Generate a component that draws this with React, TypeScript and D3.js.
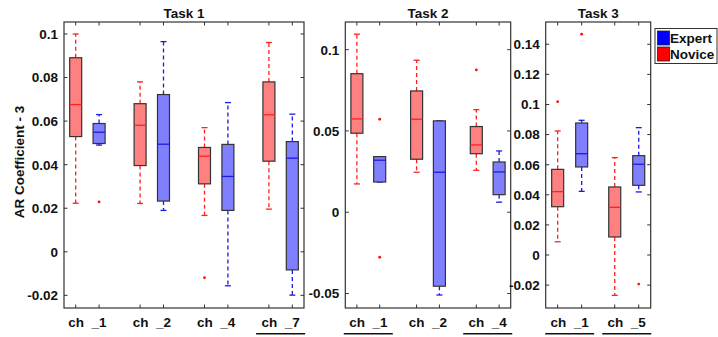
import React from "react";
import * as d3 from "d3";

// ---- Data: each box is [lowerWhisker, q1, median, q3, upperWhisker]
const task1Categories = ["ch _1", "ch _2", "ch _4", "ch _7"];
const task1Novice = [
  [0.0223, 0.0529, 0.0676, 0.0891, 0.1],
  [0.0222, 0.0396, 0.0581, 0.068, 0.078],
  [0.0167, 0.0312, 0.0439, 0.0479, 0.057],
  [0.0196, 0.0416, 0.0629, 0.078, 0.0961],
];
const task1Expert = [
  [0.049, 0.0497, 0.0549, 0.0589, 0.063],
  [0.019, 0.0233, 0.0494, 0.0722, 0.0965],
  [-0.0156, 0.019, 0.0346, 0.0493, 0.0685],
  [-0.0199, -0.0083, 0.043, 0.0506, 0.0632],
];
const task1NoviceOutliers = [[], [], [-0.0119], []];
const task1ExpertOutliers = [[0.0229], [], [], []];
const task1Underlined = [false, false, false, true];
const task1Ticks = [-0.02, 0, 0.02, 0.04, 0.06, 0.08, 0.1];
const task1Domain = [-0.0258, 0.1055];

const task2Categories = ["ch _1", "ch _2", "ch _4"];
const task2Novice = [
  [0.0174, 0.0486, 0.0574, 0.0852, 0.1095],
  [0.0246, 0.0326, 0.0572, 0.0746, 0.0935],
  [0.0258, 0.036, 0.0414, 0.0527, 0.0631],
];
const task2Expert = [
  [0.0186, 0.0186, 0.032, 0.0342, 0.0342],
  [-0.0509, -0.0455, 0.0246, 0.0562, 0.0562],
  [0.0062, 0.0108, 0.0248, 0.0309, 0.0377],
];
const task2NoviceOutliers = [[], [], [0.0875]];
const task2ExpertOutliers = [[0.0572, -0.0277], [], []];
const task2Underlined = [true, false, true];
const task2Ticks = [-0.05, 0, 0.05, 0.1];
const task2Domain = [-0.0589, 0.117];

const task3Categories = ["ch _1", "ch _5"];
const task3Novice = [
  [0.0088, 0.0321, 0.0421, 0.0569, 0.0824],
  [-0.0268, 0.012, 0.0317, 0.0452, 0.0647],
];
const task3Expert = [
  [0.0423, 0.0585, 0.0673, 0.0877, 0.0895],
  [0.0419, 0.0463, 0.0603, 0.066, 0.0846],
];
const task3NoviceOutliers = [[0.1019], []];
const task3ExpertOutliers = [[0.1467], [-0.0193]];
const task3Underlined = [true, true];
const task3Ticks = [-0.02, 0, 0.02, 0.04, 0.06, 0.08, 0.1, 0.12, 0.14];
const task3Domain = [-0.0352, 0.1548];

const titles = ["Task 1", "Task 2", "Task 3"];
const legendLabels = ["Expert", "Novice"];
const yLabel = "AR Coefficient - 3";

// ---- Layout / style
const W = 718;
const H = 337;
const TOP = 22;
const BOTTOM = 308;
const FONT = "'Liberation Sans', Arial, Helvetica, sans-serif";
const NOVICE_FILL = "#ff8080";
const EXPERT_FILL = "#8080ff";
const NOVICE_LINE = "#ff2020";
const EXPERT_LINE = "#1a1ae6";
const EDGE = "#333";

const panels = [
  { x0: 64, x1: 304, padding: 0.363, offset: 11.7, cats: task1Categories, novice: task1Novice, expert: task1Expert, nOut: task1NoviceOutliers, eOut: task1ExpertOutliers, under: task1Underlined, ticks: task1Ticks, domain: task1Domain, title: titles[0] },
  { x0: 345.3, x1: 510.7, padding: 0.385, offset: 11.4, cats: task2Categories, novice: task2Novice, expert: task2Expert, nOut: task2NoviceOutliers, eOut: task2ExpertOutliers, under: task2Underlined, ticks: task2Ticks, domain: task2Domain, title: titles[1] },
  { x0: 545.7, x1: 650.7, padding: 0.42, offset: 12, cats: task3Categories, novice: task3Novice, expert: task3Expert, nOut: task3NoviceOutliers, eOut: task3ExpertOutliers, under: task3Underlined, ticks: task3Ticks, domain: task3Domain, title: titles[2] },
];

const fmt = (v: number) => String(+v.toFixed(3));

function Box({ cx, stats, y, fill, line, outliers }: any) {
  const bw = 12;
  const cap = 6;
  const [lw, q1, med, q3, uw] = stats;
  return (
    <g>
      {uw > q3 && (
        <line x1={cx} x2={cx} y1={y(q3)} y2={y(uw)} stroke={line} strokeWidth={1.3} strokeDasharray="4,3" />
      )}
      {lw < q1 && (
        <line x1={cx} x2={cx} y1={y(q1)} y2={y(lw)} stroke={line} strokeWidth={1.3} strokeDasharray="4,3" />
      )}
      <line x1={cx - cap / 2} x2={cx + cap / 2} y1={y(uw)} y2={y(uw)} stroke={line} strokeWidth={1.3} />
      <line x1={cx - cap / 2} x2={cx + cap / 2} y1={y(lw)} y2={y(lw)} stroke={line} strokeWidth={1.3} />
      <rect x={cx - bw / 2} y={y(q3)} width={bw} height={y(q1) - y(q3)} fill={fill} stroke={EDGE} strokeWidth={1.2} />
      <line x1={cx - bw / 2} x2={cx + bw / 2} y1={y(med)} y2={y(med)} stroke={line} strokeWidth={1.3} />
      {outliers.map((o: number, i: number) => (
        <circle key={i} cx={cx} cy={y(o)} r={1.4} fill="#ff1010" />
      ))}
    </g>
  );
}

function Panel({ p }: any) {
  const y = d3.scaleLinear().domain(p.domain).range([BOTTOM, TOP]);
  const x = d3
    .scalePoint<number>()
    .domain(p.cats.map((_: string, i: number) => i))
    .range([p.x0, p.x1])
    .padding(p.padding);
  const positions: number[] = [];
  p.cats.forEach((_: string, i: number) => {
    positions.push((x(i) as number) - p.offset, (x(i) as number) + p.offset);
  });
  const tl = 3.5;
  return (
    <g>
      <text x={(p.x0 + p.x1) / 2} y={18.3} textAnchor="middle" fontFamily={FONT} fontWeight="bold" fontSize={13.5} fill="#111">
        {p.title}
      </text>
      {p.ticks.map((t: number) => (
        <g key={t}>
          <line x1={p.x0} x2={p.x0 + tl} y1={y(t)} y2={y(t)} stroke={EDGE} strokeWidth={1} />
          <line x1={p.x1 - tl} x2={p.x1} y1={y(t)} y2={y(t)} stroke={EDGE} strokeWidth={1} />
          <text x={p.x0 - 6} y={y(t)} dy="0.36em" textAnchor="end" fontFamily={FONT} fontWeight="bold" fontSize={13.5} fill="#111">
            {fmt(t)}
          </text>
        </g>
      ))}
      {positions.map((px, i) => (
        <g key={i}>
          <line x1={px} x2={px} y1={TOP} y2={TOP + tl} stroke={EDGE} strokeWidth={1} />
          <line x1={px} x2={px} y1={BOTTOM - tl} y2={BOTTOM} stroke={EDGE} strokeWidth={1} />
        </g>
      ))}
      {p.cats.map((c: string, i: number) => (
        <g key={c}>
          <Box cx={(x(i) as number) - p.offset} stats={p.novice[i]} y={y} fill={NOVICE_FILL} line={NOVICE_LINE} outliers={p.nOut[i]} />
          <Box cx={(x(i) as number) + p.offset} stats={p.expert[i]} y={y} fill={EXPERT_FILL} line={EXPERT_LINE} outliers={p.eOut[i]} />
          <text x={x(i) as number} y={326.5} textAnchor="middle" fontFamily={FONT} fontWeight="bold" fontSize={13.5} fill="#111" style={{ whiteSpace: "pre" }}>
            {c.replace(" ", "  ")}
          </text>
          {p.under[i] && (
            <line x1={(x(i) as number) - 24.5} x2={(x(i) as number) + 24.5} y1={333.7} y2={333.7} stroke="#111" strokeWidth={1.5} />
          )}
        </g>
      ))}
      <rect x={p.x0} y={TOP} width={p.x1 - p.x0} height={BOTTOM - TOP} fill="none" stroke={EDGE} strokeWidth={1.2} />
    </g>
  );
}

export default function App() {
  React.useEffect(() => {
    document.body.style.margin = "0";
  }, []);
  return (
    <svg width={W} height={H} style={{ position: "absolute", left: 0, top: 0, display: "block", background: "#fff" }}>
      <rect width={W} height={H} fill="#fff" />
      <text transform="translate(24,162) rotate(-90)" textAnchor="middle" fontFamily={FONT} fontWeight="bold" fontSize={13.5} fill="#111">
        {yLabel}
      </text>
      {panels.map((p, i) => (
        <Panel key={i} p={p} />
      ))}
      <g>
        <rect x={655} y={28.5} width={62} height={35} fill="#fff" stroke={EDGE} strokeWidth={1} />
        <rect x={657.5} y={31} width={12} height={14} fill="#0000ff" stroke="#222" strokeWidth={0.8} />
        <rect x={657.5} y={47} width={12} height={14} fill="#ff0000" stroke="#222" strokeWidth={0.8} />
        <text x={670} y={43} fontFamily={FONT} fontWeight="bold" fontSize={13.5} fill="#111">{legendLabels[0]}</text>
        <text x={670} y={59} fontFamily={FONT} fontWeight="bold" fontSize={13.5} fill="#111">{legendLabels[1]}</text>
      </g>
    </svg>
  );
}
